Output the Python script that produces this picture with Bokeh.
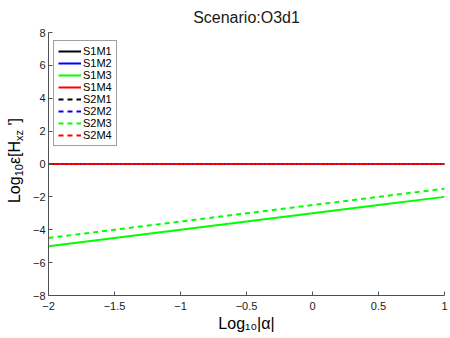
from bokeh.plotting import figure
from bokeh.models import Range1d, FixedTicker, Legend, LegendItem, Title, Div
from bokeh.layouts import row
from bokeh.embed import file_html
from bokeh.resources import INLINE

# ---- data ----
log_alpha = [-2.0, -1.5, -1.0, -0.5, 0.0, 0.5, 1.0]
S1M1 = [0.0, 0.0, 0.0, 0.0, 0.0, 0.0, 0.0]
S1M2 = [0.0, 0.0, 0.0, 0.0, 0.0, 0.0, 0.0]
S1M3 = [-5.0, -4.5, -4.0, -3.5, -3.0, -2.5, -2.0]
S1M4 = [0.0, 0.0, 0.0, 0.0, 0.0, 0.0, 0.0]
S2M1 = [0.0, 0.0, 0.0, 0.0, 0.0, 0.0, 0.0]
S2M2 = [0.0, 0.0, 0.0, 0.0, 0.0, 0.0, 0.0]
S2M3 = [-4.5, -4.0, -3.5, -3.0, -2.5, -2.0, -1.5]
S2M4 = [0.0, 0.0, 0.0, 0.0, 0.0, 0.0, 0.0]

series_names = ["S1M1", "S1M2", "S1M3", "S1M4", "S2M1", "S2M2", "S2M3", "S2M4"]
series_values = [S1M1, S1M2, S1M3, S1M4, S2M1, S2M2, S2M3, S2M4]
series_colors = ["#000000", "#0000ff", "#00ff00", "#ff0000",
                 "#000000", "#0000ff", "#00ff00", "#ff0000"]
series_dash = ["solid"] * 4 + ["5 4"] * 4

x_ticks = [-2.0, -1.5, -1.0, -0.5, 0.0, 0.5, 1.0]
x_tick_labels = ["\u22122", "\u22121.5", "\u22121", "\u22120.5", "0", "0.5", "1"]
y_ticks = [-8.0, -6.0, -4.0, -2.0, 0.0, 2.0, 4.0, 6.0, 8.0]
y_tick_labels = ["\u22128", "\u22126", "\u22124", "\u22122", "0", "2", "4", "6", "8"]

title_text = "Scenario:O3d1"
x_label = "Log\u2081\u2080|\u03b1|"

FONT = "Liberation Sans"

# ---- layout ----
YLAB_W = 28
W, H = 450 - YLAB_W, 338
ML, MR, MT, MB = 48 - YLAB_W, 6, 32, 43

p = figure(width=W, height=H, x_range=Range1d(-2.0, 1.0), y_range=Range1d(-8.0, 8.0),
           output_backend="svg", toolbar_location=None,
           min_border_left=ML, min_border_right=MR,
           min_border_top=MT, min_border_bottom=MB)
p.margin = 0
p.outline_line_color = None
p.xgrid.visible = False
p.ygrid.visible = False
p.background_fill_color = "white"
p.border_fill_color = "white"

t = Title(text=title_text, align="center", text_font=FONT, text_font_size="16px",
          text_font_style="normal", text_color="#1a1a1a", standoff=13)
p.add_layout(t, "above")

for ax, ticks, labels in ((p.xaxis[0], x_ticks, x_tick_labels),
                          (p.yaxis[0], y_ticks, y_tick_labels)):
    ax.ticker = FixedTicker(ticks=ticks)
    ax.major_label_overrides = dict(zip(ticks, labels))
    ax.major_tick_in = 4
    ax.major_tick_out = 0
    ax.minor_tick_in = 0
    ax.minor_tick_out = 0
    ax.axis_line_color = "#505050"
    ax.major_tick_line_color = "#505050"
    ax.major_label_text_font = FONT
    ax.major_label_text_font_size = "11px"
    ax.major_label_text_color = "#1a1a1a"
p.xaxis.major_label_standoff = 6
p.yaxis.major_label_standoff = 3

p.xaxis.axis_label = x_label
p.xaxis.axis_label_text_font = FONT
p.xaxis.axis_label_text_font_size = "16px"
p.xaxis.axis_label_text_font_style = "normal"
p.xaxis.axis_label_text_color = "#000000"
p.xaxis.axis_label_standoff = 2

items = []
for name, vals, col, dash in zip(series_names, series_values, series_colors, series_dash):
    r = p.line(log_alpha, vals, line_color=col, line_width=2, line_dash=dash)
    items.append(LegendItem(label=name, renderers=[r]))

legend = Legend(items=items, location=(5, 149))
legend.label_text_font = FONT
legend.label_text_font_size = "11px"
legend.label_text_color = "#000000"
legend.label_height = 12
legend.glyph_height = 12
legend.glyph_width = 23
legend.label_standoff = 2
legend.spacing = 0
legend.padding = 4
legend.margin = 0
legend.border_line_color = "#404040"
legend.border_line_width = 1
legend.background_fill_alpha = 1.0
p.add_layout(legend, "center")

# ---- rotated y-axis label with real subscripts ----
ylab_html = (
    '<div style="position:relative;width:%dpx;height:%dpx;">'
    '<span style="position:absolute;left:5px;top:118px;writing-mode:vertical-rl;'
    'transform:rotate(180deg);font-family:\'Liberation Sans\';font-size:16px;'
    'line-height:20px;white-space:nowrap;color:#000;">'
    'Log<sub style="font-size:11px;line-height:0;">10</sub>\u03b5[H'
    '<sub style="font-size:11px;line-height:0;">xz</sub> \']</span></div>'
) % (YLAB_W, H)
ydiv = Div(text=ylab_html, width=YLAB_W, height=H, margin=0)

layout = row(ydiv, p, spacing=0)

open("out.html", "w").write(file_html(layout, INLINE))
